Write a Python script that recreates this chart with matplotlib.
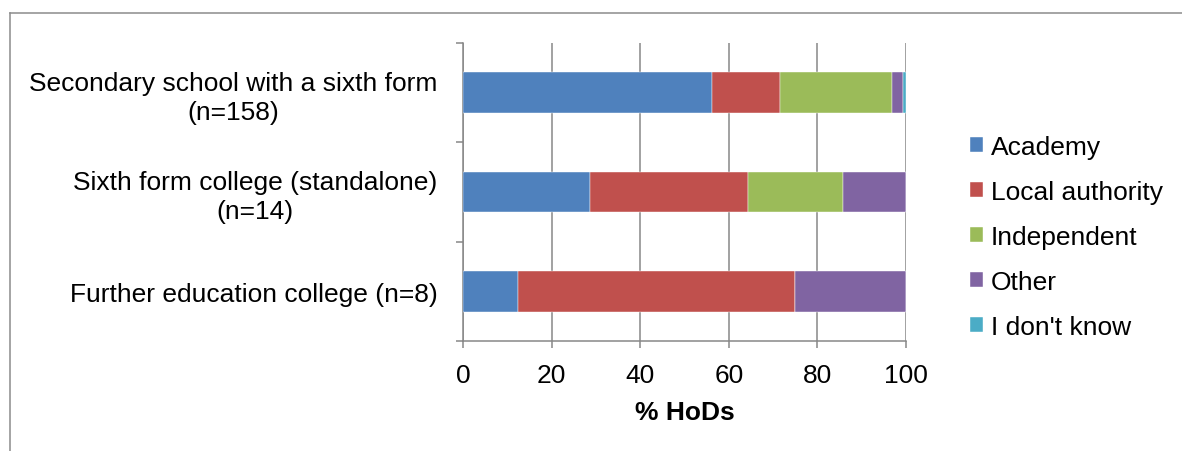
import matplotlib
matplotlib.use("Agg")
import matplotlib.pyplot as plt
from matplotlib.lines import Line2D
import numpy as np

plt.rcParams['font.family'] = ['Liberation Sans', 'DejaVu Sans']

# Institution types (top to bottom) and share of HoDs by governance type (%)
categories = [
    "Secondary school with a sixth form\n(n=158)",
    "Sixth form college (standalone)\n(n=14)",
    "Further education college (n=8)",
]
series_names = ["Academy", "Local authority", "Independent", "Other", "I don't know"]
academy = [56.3, 28.6, 12.5]
local_authority = [15.2, 35.7, 62.5]
independent = [25.3, 21.4, 0.0]
other = [2.5, 14.3, 25.0]
dont_know = [0.6, 0.0, 0.0]
xticks = [0, 20, 40, 60, 80, 100]

colors = ["#4F81BD", "#C0504D", "#9BBB59", "#8064A2", "#4BACC6"]
grey = "#878787"
fs = 19

fig = plt.figure(figsize=(11.82, 4.52), dpi=100)
ax = fig.add_axes([463 / 1182, 1 - 342 / 452, (906 - 463) / 1182, (342 - 44) / 452])

ypos = np.arange(len(categories))
left = np.zeros(len(categories))
for name, vals, c in zip(series_names,
                         [academy, local_authority, independent, other, dont_know],
                         colors):
    ax.barh(ypos, vals, left=left, height=0.41, color=c, label=name,
            edgecolor="white", linewidth=0.3, zorder=3)
    left += np.array(vals)

ax.set_xlim(0, 100)
ax.set_ylim(2.5, -0.5)
ax.set_xticks(xticks)
ax.set_xticklabels([str(t) for t in xticks])
ax.xaxis.grid(True, color=grey, linewidth=1.1, zorder=0)
ax.set_axisbelow(True)

ax.set_yticks(ypos)
ax.set_yticklabels(categories, linespacing=1.25)
for lbl in ax.get_yticklabels():
    lbl.set_multialignment("center")
ax.set_yticks([-0.5, 0.5, 1.5, 2.5], minor=True)
ax.tick_params(axis="y", which="major", length=0, pad=18.5, labelsize=fs)
ax.tick_params(axis="y", which="minor", length=5, width=1.1, color=grey, direction="out")
ax.tick_params(axis="x", which="major", length=5, width=1.1, color=grey,
               direction="out", pad=11, labelsize=fs)

for s in ["top", "right"]:
    ax.spines[s].set_visible(False)
for s in ["left", "bottom"]:
    ax.spines[s].set_color(grey)
    ax.spines[s].set_linewidth(1.1)

ax.set_xlabel("% HoDs", fontsize=fs, fontweight="bold", labelpad=9)

leg = fig.legend(loc="center left", bbox_to_anchor=(959 / 1182, 1 - 238 / 452),
                 frameon=False, fontsize=fs, handlelength=0.5, handleheight=0.5,
                 handletextpad=0.3, labelspacing=0.8, borderaxespad=0)

# outer chart frame
fig.add_artist(Line2D([10 / 1182, 1.01], [1 - 14 / 452, 1 - 14 / 452],
                      transform=fig.transFigure, color="#8c8c8c", linewidth=1.1))
fig.add_artist(Line2D([10 / 1182, 10 / 1182], [-0.01, 1 - 14 / 452],
                      transform=fig.transFigure, color="#8c8c8c", linewidth=1.1))

fig.savefig("out.png", dpi=100, facecolor="white")
